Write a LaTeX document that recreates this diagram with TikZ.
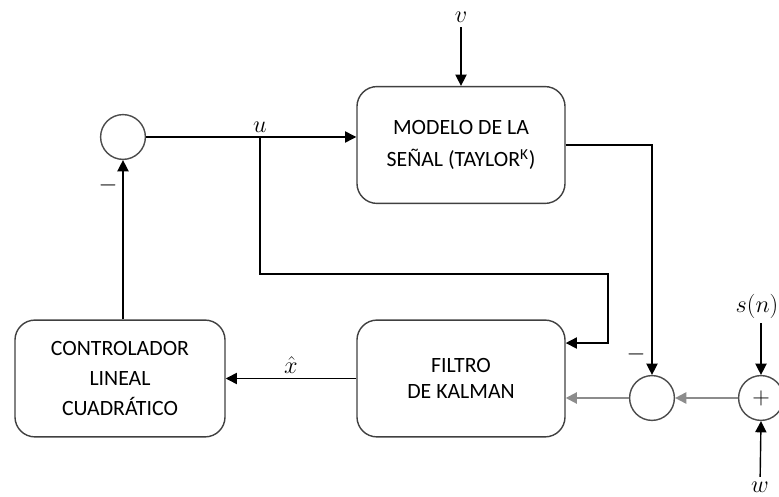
\documentclass[tikz,border=0pt]{standalone}
\usepackage{fontspec}
\setmainfont{Carlito}
\usetikzlibrary{arrows.meta,calc}

\begin{document}
\begin{tikzpicture}[x=0.025cm,y=-0.025cm,
    bloque/.style={draw=black!75,line width=1pt,rounded corners=0.5cm,
        minimum width=5.2cm,minimum height=2.92cm,align=center,
        font=\fontsize{15.5}{22}\selectfont},
    suma/.style={circle,draw=black!70,line width=1pt,minimum size=1.12cm,inner sep=0pt},
    flecha/.style={line width=1pt,-{Triangle[length=2.8mm,width=2.8mm]}},
    gris/.style={flecha,draw=black!45,line width=1.4pt},
    etiq/.style={font=\fontsize{17}{17}\selectfont}]
    \useasboundingbox (0,0) rectangle (779,497);
    % bloques
    \node[bloque,font=\fontsize{15.5}{23}\selectfont] (modelo) at (461,145) {MODELO DE LA\\SEÑAL (TAYLOR\textsuperscript{K})};
    \node[bloque,font=\fontsize{15.5}{18.5}\selectfont] (kalman) at (461,378.5) {FILTRO\\DE KALMAN};
    \node[bloque,minimum width=5.25cm,font=\fontsize{15.5}{21}\selectfont] (ctrl) at (120,378.5) {CONTROLADOR\\LINEAL\\CUADRÁTICO};
    % sumadores
    \node[suma] (sum1) at (123,137) {};
    \node[suma] (sum2) at (652,398) {};
    \node[suma] (sum3) at (761,398) {\fontsize{16}{16}\selectfont$+$};
    % entradas
    \node[etiq] (v) at (461,17) {$v$};
    \node[etiq] (s) at (757,306) {$s(n)$};
    \node[etiq] (w) at (760,487) {$w$};
    \node[etiq] (m1) at (108,185) {$-$};
    \node[etiq] (m2) at (636,354) {$-$};
    \coordinate (br) at (260,137);
    % conexiones
    \draw[flecha] (v) -- (modelo.north);
    \draw[flecha] (sum1.east) -- (sum1.east -| modelo.west);
    \node[etiq,above] (u) at (br) {$u$};
    \draw[flecha] (br) |- (608,274) |- ($(kalman.north east)!0.2!(kalman.south east)$);
    \draw[flecha] (modelo.east) -| (sum2.north);
    \draw[flecha] (s.south -| sum3.north) -- (sum3.north);
    \draw[flecha] (w) -- (sum3.south);
    \draw[gris] (sum3.west) -- (sum2.east);
    \draw[gris] (sum2.west) -- (sum2.west -| kalman.east);
    \draw[flecha] (kalman.west) -- node[etiq,above] (xh) {$\hat{x}$} (ctrl.east);
    \draw[flecha] (sum1.south |- ctrl.north) -- (sum1.south);
\end{tikzpicture}
\end{document}
